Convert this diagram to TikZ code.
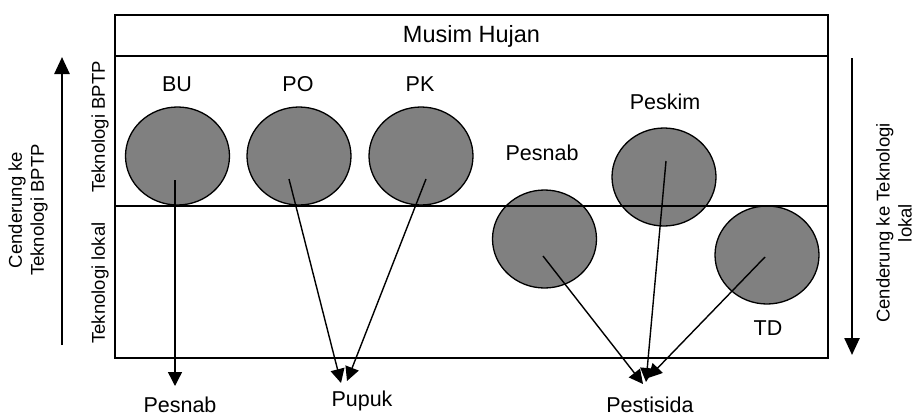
\documentclass[tikz,border=0pt]{standalone}
\usepackage{fontspec}
\setmainfont{Liberation Sans}
\usetikzlibrary{arrows.meta,shapes.geometric}
\definecolor{blobgray}{RGB}{128,128,128}
\begin{document}
\begin{tikzpicture}[x=1pt,y=-1pt,
  blob/.style={ellipse,draw=black,line width=1.3pt,fill=blobgray,inner sep=0pt,minimum width=104pt,minimum height=98pt},
  lbl/.style={font=\fontsize{21.5}{25}\selectfont,inner sep=0pt},
  sidetext/.style={font=\fontsize{18.5}{22}\selectfont,rotate=90,align=center,inner sep=0pt},
  link/.style={line width=1.4pt,-{Triangle[length=14pt,width=14pt]}},
  trend/.style={line width=2.5pt,-{Triangle[length=17pt,width=15pt]}}]
\useasboundingbox (0,0) rectangle (915,418);
% frame
\draw[line width=1.6pt] (115,15) rectangle (828,358);
\draw[line width=1.6pt] (115,56) -- (828,56);
\node[lbl,font=\fontsize{23.5}{27}\selectfont] (musim) at (471.5,36) {Musim Hujan};
% circles
\node[blob] (bu) at (177.5,156) {};
\node[blob] (po) at (299,156) {};
\node[blob] (pk) at (421,156) {};
\node[blob] (pesnab) at (544.5,239) {};
\node[blob] (peskim) at (664,177) {};
\node[blob] (td) at (767,255) {};
\draw[line width=1.6pt] (115,206) -- (828,206);
% labels
\node[lbl] (buL) at (177,84) {BU};
\node[lbl] (poL) at (298,84) {PO};
\node[lbl] (pkL) at (420,84) {PK};
\node[lbl] (pesnabL) at (542,153) {Pesnab};
\node[lbl] (peskimL) at (665,102) {Peskim};
\node[lbl] (tdL) at (768,328) {TD};
\node[lbl] (outPesnab) at (180,405) {Pesnab};
\node[lbl] (outPupuk) at (362,401) {Pupuk};
\node[lbl] (outPestisida) at (650,405) {Pestisida};
% arrow ends
\coordinate (buS) at (175,180);
\coordinate (poS) at (289,179);
\coordinate (pkS) at (426,179);
\coordinate (pesnabS) at (543,256);
\coordinate (peskimS) at (666,161);
\coordinate (tdS) at (765,257);
\coordinate (buE) at (175,386);
\coordinate (poE) at (341,383);
\coordinate (pkE) at (347,381);
\coordinate (pesnabE) at (643,384);
\coordinate (peskimE) at (646,382);
\coordinate (tdE) at (648,378);
\draw[link] (buS) -- (buE);
\draw[link] (poS) -- (poE);
\draw[link] (pkS) -- (pkE);
\draw[link] (pesnabS) -- (pesnabE);
\draw[link] (peskimS) -- (peskimE);
\draw[link] (tdS) -- (tdE);
% side texts
\node[sidetext] (bptp) at (100,127) {Teknologi BPTP};
\node[sidetext] (lokal) at (100,283) {Teknologi lokal};
\coordinate (upS) at (62,345);
\coordinate (upE) at (62,57);
\draw[trend] (upS) -- (upE);
\node[sidetext] (toBptp) at (28,210) {Cenderung ke\\Teknologi BPTP};
\coordinate (downS) at (852,58);
\coordinate (downE) at (852,355);
\draw[trend] (downS) -- (downE);
\node[sidetext] (toLokal) at (894,223) {Cenderung ke Teknologi\\lokal};
\end{tikzpicture}
\end{document}
